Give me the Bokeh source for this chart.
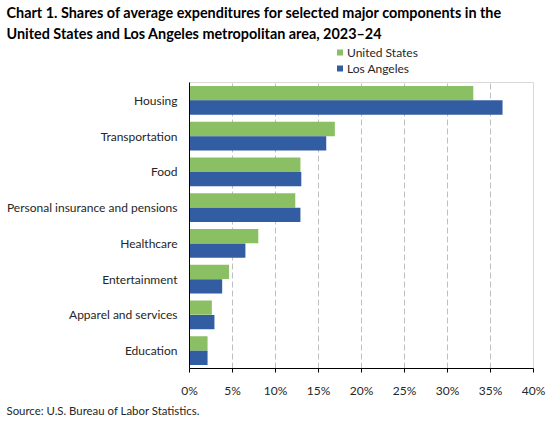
from bokeh.plotting import figure
from bokeh.layouts import column
from bokeh.models import (FactorRange, Range1d, FixedTicker, PrintfTickFormatter,
                          Legend, LegendItem, ColumnDataSource, Title)
from bokeh.transform import dodge
from bokeh.embed import file_html
from bokeh.resources import INLINE

categories = ["Housing", "Transportation", "Food", "Personal insurance and pensions",
              "Healthcare", "Entertainment", "Apparel and services", "Education"]
us_values = [33.0, 16.9, 12.9, 12.3, 8.0, 4.6, 2.6, 2.1]
la_values = [36.4, 15.9, 13.0, 12.9, 6.5, 3.8, 2.9, 2.1]
series_names = ["United States", "Los Angeles"]
x_ticks = [0, 5, 10, 15, 20, 25, 30, 35, 40]
title_lines = ["Chart 1. Shares of average expenditures for selected major components in the",
               "United States and Los Angeles metropolitan area, 2023\u201324"]
source_text = "Source: U.S. Bureau of Labor Statistics."

GREEN = "#8BBF63"
BLUE = "#335DA2"
FONT = "Lato"
TXT = "#262626"
W = 546
LEFT = 189
RIGHT = 13
HEAD_H = 80
MAIN_H = 338

# ---------------- header: title lines + legend ----------------
head = figure(width=W, height=HEAD_H, output_backend="svg", toolbar_location=None,
              x_range=Range1d(0, 1), y_range=Range1d(0, 1),
              x_axis_type=None, y_axis_type=None, min_border=0, title=None,
              min_border_left=LEFT, min_border_right=RIGHT)
head.outline_line_color = None
head.grid.grid_line_color = None
for line in (title_lines[1], title_lines[0]):
    head.add_layout(Title(text=line, align="left", offset=-183, standoff=2,
                          text_font=FONT, text_font_style="bold",
                          text_font_size="14.4px", text_color="black"), "above")
# legend-only marks, kept outside the header's visible range
g_us = head.scatter(x=[-9], y=[-9], marker="square", fill_color=GREEN, line_color=None)
g_la = head.scatter(x=[-9], y=[-9], marker="square", fill_color=BLUE, line_color=None)
legend = Legend(items=[LegendItem(label=series_names[0], renderers=[g_us]),
                       LegendItem(label=series_names[1], renderers=[g_la])],
                location=(143, 4), orientation="vertical",
                glyph_width=15, glyph_height=16, label_height=16, label_standoff=0,
                spacing=0, padding=0, margin=0, border_line_color=None,
                background_fill_alpha=0, label_text_font=FONT,
                label_text_font_size="12px", label_text_color=TXT)
head.add_layout(legend)

# ---------------- main chart ----------------
src = ColumnDataSource(data=dict(cat=categories, us=us_values, la=la_values))

p = figure(width=W, height=MAIN_H, output_backend="svg", toolbar_location=None,
           y_range=FactorRange(*reversed(categories)), x_range=Range1d(0, 40),
           min_border_left=LEFT, min_border_right=RIGHT, min_border_top=2,
           min_border_bottom=46, title=None)

p.hbar(y=dodge("cat", 0.2, range=p.y_range), right="us", height=0.4, left=0,
       source=src, color=GREEN, line_color=None)
p.hbar(y=dodge("cat", -0.2, range=p.y_range), right="la", height=0.4, left=0,
       source=src, color=BLUE, line_color=None)

p.outline_line_color = "#D9D9D9"
p.background_fill_color = "white"
p.border_fill_color = "white"

p.ygrid.grid_line_color = None
p.xgrid.grid_line_color = "#BFBFBF"
p.xgrid.grid_line_dash = "6 3"
p.xgrid.grid_line_width = 1
p.xgrid.ticker = FixedTicker(ticks=x_ticks)

p.xaxis.ticker = FixedTicker(ticks=x_ticks)
p.xaxis.formatter = PrintfTickFormatter(format="%d%%")
p.xaxis.axis_line_color = "black"
p.xaxis.major_tick_line_color = "black"
p.xaxis.major_tick_out = 4
p.xaxis.major_tick_in = 0
p.xaxis.minor_tick_line_color = None
p.xaxis.major_label_standoff = 10
p.xaxis.major_label_text_font = FONT
p.xaxis.major_label_text_font_size = "12px"
p.xaxis.major_label_text_color = TXT

p.yaxis.axis_line_color = "black"
p.yaxis.major_tick_line_color = None
p.yaxis.major_tick_out = 0
p.yaxis.minor_tick_line_color = None
p.yaxis.major_label_standoff = 12
p.yaxis.major_label_text_font = FONT
p.yaxis.major_label_text_font_size = "12px"
p.yaxis.major_label_text_color = TXT

p.add_layout(Title(text=source_text, align="left", offset=-183, standoff=3,
                   text_font=FONT, text_font_style="normal", text_font_size="11.4px",
                   text_color=TXT), "below")

layout = column(head, p, spacing=0)
open("out.html", "w").write(file_html(layout, INLINE))
